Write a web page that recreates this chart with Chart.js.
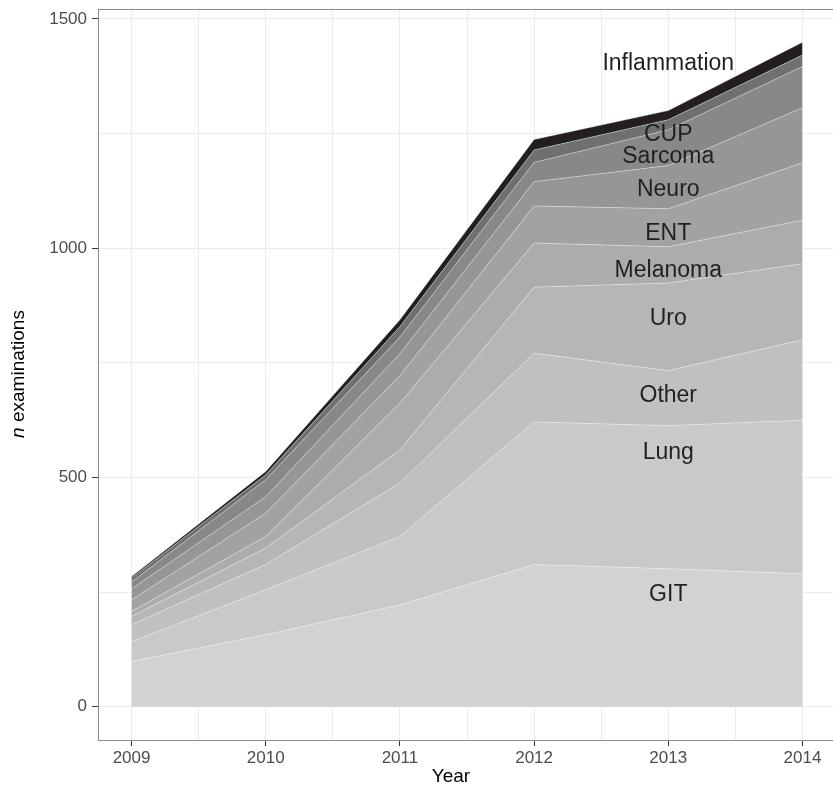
<!DOCTYPE html>
<html>
<head>
<meta charset="utf-8">
<script src="https://cdn.jsdelivr.net/npm/chart.js@4/dist/chart.umd.min.js"></script>
<style>
  html, body { margin: 0; padding: 0; background: #fff; overflow: hidden; }
  #wrap { width: 836px; height: 795px; }
</style>
</head>
<body>
<div id="wrap"><canvas id="chart"></canvas></div>
<script>
// data, bottom layer first
const years = [2009, 2010, 2011, 2012, 2013, 2014];
const git          = [99, 157, 222, 310, 301, 290];
const lung         = [43, 98, 149, 311, 312, 335];
const other        = [37, 55, 117, 150, 120, 175];
const uro          = [18, 36, 72, 144, 191, 166];
const melanoma     = [11, 25, 102, 96, 79, 95];
const ent          = [25, 51, 60, 81, 83, 125];
const neuro        = [24, 36, 48, 53, 94, 120];
const sarcoma      = [15, 37, 36, 42, 78, 90];
const cup          = [9, 11, 23, 27, 22, 25];
const inflammation = [3, 7, 15, 23, 20, 28];

const groups = ['GIT', 'Lung', 'Other', 'Uro', 'Melanoma', 'ENT', 'Neuro', 'Sarcoma', 'CUP', 'Inflammation'];
const series = [git, lung, other, uro, melanoma, ent, neuro, sarcoma, cup, inflammation];
const shades = ['#d1d2d4', '#c8c9cb', '#bfc0c2', '#b5b6b8', '#abacae', '#a1a2a4', '#959698', '#87888a', '#6f7072', '#231f20'];

// where the group names sit (year, value)
const labelYear = 2013;
const labelValues = [244, 554, 678, 846, 951, 1031, 1127, 1199, 1247, 1402];

const yTicks = [0, 250, 500, 750, 1000, 1250, 1500];
const xTicks = [2009, 2009.5, 2010, 2010.5, 2011, 2011.5, 2012, 2012.5, 2013, 2013.5, 2014];

const FONT = '"Liberation Sans", Arial, sans-serif';

const datasets = series.map((vals, i) => ({
    label: groups[i],
    data: vals.map((v, j) => ({ x: years[j], y: v })),
    backgroundColor: shades[i],
    borderColor: 'rgba(255,255,255,0.45)',
    borderWidth: 0.8,
    pointRadius: 0,
    tension: 0,
    fill: i === 0 ? 'origin' : '-1'
}));

// names inside the areas, y title with italic n, x title, top border
const decorations = {
    id: 'decorations',
    afterDatasetsDraw(chart) {
        const { ctx, scales: { x, y } } = chart;
        ctx.save();
        ctx.fillStyle = '#231f20';
        ctx.font = '23px ' + FONT;
        ctx.textAlign = 'center';
        ctx.textBaseline = 'middle';
        groups.forEach((g, i) => {
            ctx.fillText(g, x.getPixelForValue(labelYear), y.getPixelForValue(labelValues[i]));
        });
        ctx.restore();
    },
    afterDraw(chart) {
        const { ctx, chartArea } = chart;
        ctx.save();
        ctx.strokeStyle = '#8c8c8c';
        ctx.lineWidth = 1;
        ctx.beginPath();
        ctx.moveTo(chartArea.left, chartArea.top + 0.5);
        ctx.lineTo(chartArea.right, chartArea.top + 0.5);
        ctx.stroke();

        ctx.fillStyle = '#000';
        ctx.textBaseline = 'middle';
        ctx.font = '19px ' + FONT;
        ctx.textAlign = 'center';
        ctx.fillText('Year', 451, 777);

        ctx.translate(19, 374);
        ctx.rotate(-Math.PI / 2);
        ctx.font = 'italic 19px ' + FONT;
        const wn = ctx.measureText('n ').width;
        ctx.font = '19px ' + FONT;
        const wr = ctx.measureText('examinations').width;
        const start = -(wn + wr) / 2;
        ctx.textAlign = 'left';
        ctx.font = 'italic 19px ' + FONT;
        ctx.fillText('n ', start, 0);
        ctx.font = '19px ' + FONT;
        ctx.fillText('examinations', start + wn, 0);
        ctx.restore();
    }
};

new Chart(document.getElementById('chart'), {
    type: 'line',
    data: { datasets },
    plugins: [decorations],
    options: {
        responsive: true,
        maintainAspectRatio: false,
        animation: false,
        layout: { padding: { top: 9, right: 0, bottom: 0, left: 0 } },
        plugins: {
            legend: { display: false },
            tooltip: { enabled: false },
            filler: { propagate: false }
        },
        scales: {
            x: {
                type: 'linear',
                min: 2008.75,
                max: 2014.25,
                afterBuildTicks: s => { s.ticks = xTicks.map(v => ({ value: v })); },
                afterFit: s => { s.height = 55; s.paddingLeft = 0; s.paddingRight = 0; },
                ticks: {
                    color: '#4d4d4d',
                    font: { family: FONT, size: 17 },
                    padding: 2,
                    maxRotation: 0,
                    autoSkip: false,
                    callback: v => Number.isInteger(v) ? String(v) : ''
                },
                grid: {
                    color: '#ebebeb',
                    lineWidth: 1,
                    tickLength: 6,
                    tickColor: c => Number.isInteger(c.tick.value) ? '#333333' : 'rgba(0,0,0,0)'
                },
                border: { color: '#8c8c8c', width: 1 }
            },
            y: {
                stacked: true,
                min: -72.45,
                max: 1521.45,
                afterBuildTicks: s => { s.ticks = yTicks.map(v => ({ value: v })); },
                afterFit: s => { s.width = 98; s.paddingTop = 0; s.paddingBottom = 0; },
                ticks: {
                    color: '#4d4d4d',
                    font: { family: FONT, size: 17 },
                    padding: 5,
                    callback: v => v % 500 === 0 ? String(v) : ''
                },
                grid: {
                    color: '#ebebeb',
                    lineWidth: 1,
                    tickLength: 6,
                    tickColor: c => c.tick.value % 500 === 0 ? '#333333' : 'rgba(0,0,0,0)'
                },
                border: { color: '#8c8c8c', width: 1 }
            }
        }
    }
});
</script>
</body>
</html>
